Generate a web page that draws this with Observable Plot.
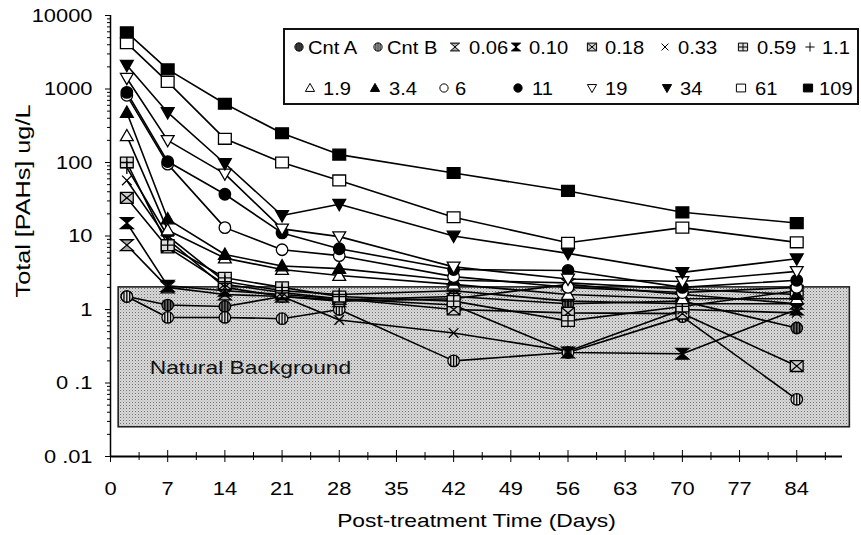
<!DOCTYPE html>
<html><head><meta charset="utf-8">
<script src="https://cdn.jsdelivr.net/npm/d3@7"></script>
<script src="https://cdn.jsdelivr.net/npm/@observablehq/plot@0.6"></script>
<style>
body{margin:0;background:#fff;}
#wrap{position:relative;width:861px;height:535px;font-family:"Liberation Sans",Arial,sans-serif;color:#000;}
#legend{position:absolute;left:283px;top:28px;width:572px;height:73px;border:2px solid #111;background:#fff;}
.item{position:absolute;display:flex;align-items:center;font-size:19px;line-height:1;white-space:nowrap;}
.item svg{overflow:visible;}
.item span{display:inline-block;transform:scaleX(1.06);transform-origin:left center;}
</style></head><body><div id="wrap"></div>
<script>
// ---- data ----
const days = [2, 7, 14, 21, 28, 42, 56, 70, 84];
const seriesNames = ["Cnt A","Cnt B","0.06","0.10","0.18","0.33","0.59","1.1","1.9","3.4","6","11","19","34","61","109"];
const cntA  = [1.5, 1.15, 1.1, 1.5, 1.35, 1.5, 1.2, 1.3, 0.56];
const cntB  = [1.5, 0.78, 0.78, 0.75, 1.0, 0.2, 0.26, 0.8, 0.06];
const d0_06 = [7.5, 2.0, 1.6, 1.5, 1.3, 1.4, 2.2, 1.6, 1.2];
const d0_10 = [15, 2.1, 1.8, 1.6, 1.4, 1.15, 0.26, 0.25, 1.0];
const d0_18 = [33, 7, 2.2, 1.7, 1.4, 1.0, 0.9, 0.88, 0.17];
const d0_33 = [57, 9, 2.0, 1.5, 0.72, 0.48, 0.27, 1.0, 0.9];
const d0_59 = [100, 7.5, 2.7, 2.0, 1.5, 1.3, 0.7, 1.1, 1.8];
const d1_1  = [85, 10, 2.4, 1.8, 1.6, 1.8, 1.3, 1.2, 1.2];
const d1_9  = [230, 12, 5.0, 3.5, 2.9, 2.2, 1.6, 1.4, 1.4];
const d3_4  = [480, 17, 5.6, 3.9, 3.6, 2.5, 2.3, 1.9, 1.6];
const d6    = [820, 95, 13, 6.5, 5.4, 2.8, 2.0, 1.7, 2.0];
const d11   = [900, 103, 37, 11, 6.7, 3.5, 3.4, 2.0, 2.5];
const d19   = [1400, 200, 70, 12.5, 9.8, 3.8, 2.6, 2.4, 3.3];
const d34   = [2100, 480, 97, 19, 27, 10, 5.8, 3.2, 4.9];
const d61   = [4200, 1250, 210, 100, 57, 18, 8.1, 13, 8.2];
const d109  = [5900, 1850, 630, 250, 128, 72, 41, 21, 15];
const seriesValues = [cntA, cntB, d0_06, d0_10, d0_18, d0_33, d0_59, d1_1, d1_9, d3_4, d6, d11, d19, d34, d61, d109];

const xTickValues = [0, 7, 14, 21, 28, 35, 42, 49, 56, 63, 70, 77, 84];
const xMinorTicks = [3.5, 10.5, 17.5, 24.5, 31.5, 38.5, 45.5, 52.5, 59.5, 66.5, 73.5, 80.5, 87.5];
const yTickValues = [0.01, 0.1, 1, 10, 100, 1000, 10000];
const yTickLabels = ["0 .01", "0 .1", "1", "10", "100", "1000", "10000"];
const yMinorTicks = yTickValues.slice(0, -1).flatMap(d => [2,3,4,5,6,7,8,9].map(m => +(d*m).toPrecision(3)));
const background = [{x1: 1, x2: 90.5, y1: 0.025, y2: 2, label: "Natural Background"}];
const xTitle = "Post-treatment Time (Days)";
const yTitle = "Total [PAHs] ug/L";

// ---- symbols ----
const sym = fn => ({draw(ctx, size) { fn(ctx, Math.sqrt(size / Math.PI)); }});
const sq = (c,h) => { c.moveTo(-h,-h*0.85); c.lineTo(h,-h*0.85); c.lineTo(h,h*0.85); c.lineTo(-h,h*0.85); c.closePath(); };
const SYM = {
  square: sym(sq),
  circle: sym((c,h) => { c.moveTo(h*0.9,0); c.arc(0,0,h*0.9,0,2*Math.PI); }),
  striped: sym((c,h) => { const r=h*0.9; c.moveTo(r,0); c.arc(0,0,r,0,2*Math.PI);
    for (const x of [-r/2, 0, r/2]) { const yy=Math.sqrt(r*r-x*x); c.moveTo(x,-yy); c.lineTo(x,yy); } }),
  triUp: sym((c,h) => { c.moveTo(0,-h); c.lineTo(h,h*0.75); c.lineTo(-h,h*0.75); c.closePath(); }),
  triDown: sym((c,h) => { c.moveTo(0,h); c.lineTo(h,-h*0.75); c.lineTo(-h,-h*0.75); c.closePath(); }),
  hourglass: sym((c,h) => { c.moveTo(-h,-h*0.85); c.lineTo(h,-h*0.85); c.lineTo(-h,h*0.85); c.lineTo(h,h*0.85); c.closePath(); }),
  boxX: sym((c,h) => { sq(c,h); c.moveTo(-h,-h*0.85); c.lineTo(h,h*0.85); c.moveTo(h,-h*0.85); c.lineTo(-h,h*0.85); }),
  boxPlus: sym((c,h) => { sq(c,h); c.moveTo(0,-h*0.85); c.lineTo(0,h*0.85); c.moveTo(-h,0); c.lineTo(h,0); }),
  times: sym((c,h) => { const k=h*0.75; c.moveTo(-k,-k); c.lineTo(k,k); c.moveTo(k,-k); c.lineTo(-k,k); }),
  plus: sym((c,h) => { c.moveTo(0,-h); c.lineTo(0,h); c.moveTo(-h,0); c.lineTo(h,0); })
};
const seriesStyle = [
  {sym: SYM.striped, fill: "#666"}, {sym: SYM.striped, fill: "#ddd"},
  {sym: SYM.hourglass, fill: "#aaa"}, {sym: SYM.hourglass, fill: "#000"},
  {sym: SYM.boxX, fill: "#ccc"}, {sym: SYM.times, fill: "none"},
  {sym: SYM.boxPlus, fill: "#ddd"}, {sym: SYM.plus, fill: "none"},
  {sym: SYM.triUp, fill: "#fff"}, {sym: SYM.triUp, fill: "#000"},
  {sym: SYM.circle, fill: "#fff"}, {sym: SYM.circle, fill: "#000"},
  {sym: SYM.triDown, fill: "#fff"}, {sym: SYM.triDown, fill: "#000"},
  {sym: SYM.square, fill: "#fff"}, {sym: SYM.square, fill: "#000"}
];

const rows = seriesNames.flatMap((s, i) => days.map((d, j) => ({series: s, day: d, value: seriesValues[i][j]})));

const dotMarks = seriesNames.map((s, i) => Plot.dot(rows.filter(r => r.series === s), {
  x: "day", y: "value", symbol: seriesStyle[i].sym, r: 6.4,
  fill: seriesStyle[i].fill, stroke: "#000", strokeWidth: 1.3
}));

const chart = Plot.plot({
  width: 861, height: 535,
  marginLeft: 110, marginRight: 19, marginTop: 15, marginBottom: 79,
  style: {fontFamily: "'Liberation Sans', Arial, sans-serif", fontSize: "19px", background: "#fff", color: "#000"},
  x: {domain: [0, 89.6], label: null},
  y: {type: "log", domain: [0.01, 10000], label: null},
  marks: [
    Plot.rect(background, {x1: "x1", x2: "x2", y1: "y1", y2: "y2", fill: "url(#stipple)", stroke: "#222", strokeWidth: 1.6}),
    Plot.text(background, {x: 4.8, y: 0.16, text: "label", textAnchor: "start", fontSize: 19, fill: "#111"}),
    Plot.line(rows, {x: "day", y: "value", z: "series", stroke: "#000", strokeWidth: 1.6}),
    ...dotMarks,
    Plot.ruleX([0], {y1: 0.01, y2: 10000, stroke: "#000", strokeWidth: 1.5}),
    Plot.ruleY([0.01], {stroke: "#000", strokeWidth: 2}),
    Plot.axisY({ticks: yMinorTicks, tickSize: 3, tickFormat: () => "", label: null}),
    Plot.axisY({ticks: yTickValues, tickSize: 5, tickPadding: 13, tickFormat: d => yTickLabels[yTickValues.indexOf(d)], fontSize: 19, label: null}),
    Plot.axisY({ticks: [0.01], tickSize: -5, tickFormat: () => "", label: null}),
    Plot.axisX({ticks: xTickValues, tickSize: 6, tickPadding: 19, fontSize: 19, label: null}),
    Plot.axisX({ticks: xTickValues, tickSize: -6, tickFormat: () => "", label: null}),
    Plot.axisX({ticks: xMinorTicks, tickSize: 4, tickFormat: () => "", label: null}),
    Plot.axisX({ticks: xMinorTicks, tickSize: -4, tickFormat: () => "", label: null}),
    Plot.text([xTitle], {frameAnchor: "bottom", dy: 70, text: d => d, fontSize: 19, ariaLabel: "x-title"}),
    Plot.text([yTitle], {frameAnchor: "left", textAnchor: "middle", dx: -87, dy: -35, rotate: -90, text: d => d, fontSize: 21, ariaLabel: "y-title"})
  ]
});

// stipple pattern for the background band
const svgNS = "http://www.w3.org/2000/svg";
const defs = document.createElementNS(svgNS, "defs");
defs.innerHTML = '<pattern id="stipple" width="3" height="3" patternUnits="userSpaceOnUse"><rect width="3" height="3" fill="#d8d8d8"/><rect width="1" height="1" fill="#707070"/><rect x="1.5" y="1.5" width="1" height="1" fill="#a8a8a8"/></pattern>';
chart.insertBefore(defs, chart.firstChild);

const wrap = document.getElementById("wrap");
wrap.appendChild(chart);

// widen the text slightly, like the scanned original's lettering
const stretch = (sel, k) => chart.querySelectorAll(sel).forEach(t => {
  const L = t.getComputedTextLength();
  if (L > 0) { t.setAttribute("textLength", (L * k).toFixed(1)); t.setAttribute("lengthAdjust", "spacingAndGlyphs"); }
});
stretch('g[aria-label="y-axis tick label"] text', 1.15);
stretch('g[aria-label="x-axis tick label"] text', 1.15);
stretch('g[aria-label="text"] text', 1.2);
stretch('g[aria-label="y-title"] text', 1.25);

// ---- legend ----
const legend = document.createElement("div");
legend.id = "legend";
wrap.appendChild(legend);
const legendIconX = [[14, 93, 170, 231, 307, 380, 458, 525], [25, 90, 159, 233, 307, 382, 456, 523]];
const legendTextGap = [[3, 3, 8, 7, 7, 7, 8, 6], [7, 8, 5, 8, 7, 7, 8, 5]];
const legendRowY = [17, 58];
seriesNames.forEach((s, i) => {
  const row = i < 8 ? 0 : 1, col = i % 8;
  const item = document.createElement("div");
  item.className = "item";
  item.style.left = (legendIconX[row][col] - 6) + "px";
  item.style.top = (legendRowY[row] - 10) + "px";
  const svg = d3.create("svg").attr("width", 12).attr("height", 20).attr("viewBox", "-6 -10 12 20");
  const p = d3.symbol(seriesStyle[i].sym, Math.PI * 4.6 * 4.6)();
  svg.append("path").attr("d", p).attr("fill", seriesStyle[i].fill).attr("stroke", "#000").attr("stroke-width", 1);
  item.appendChild(svg.node());
  const t = document.createElement("span");
  t.textContent = s;
  t.style.marginLeft = legendTextGap[row][col] + "px";
  item.appendChild(t);
  legend.appendChild(item);
});
</script></body></html>
